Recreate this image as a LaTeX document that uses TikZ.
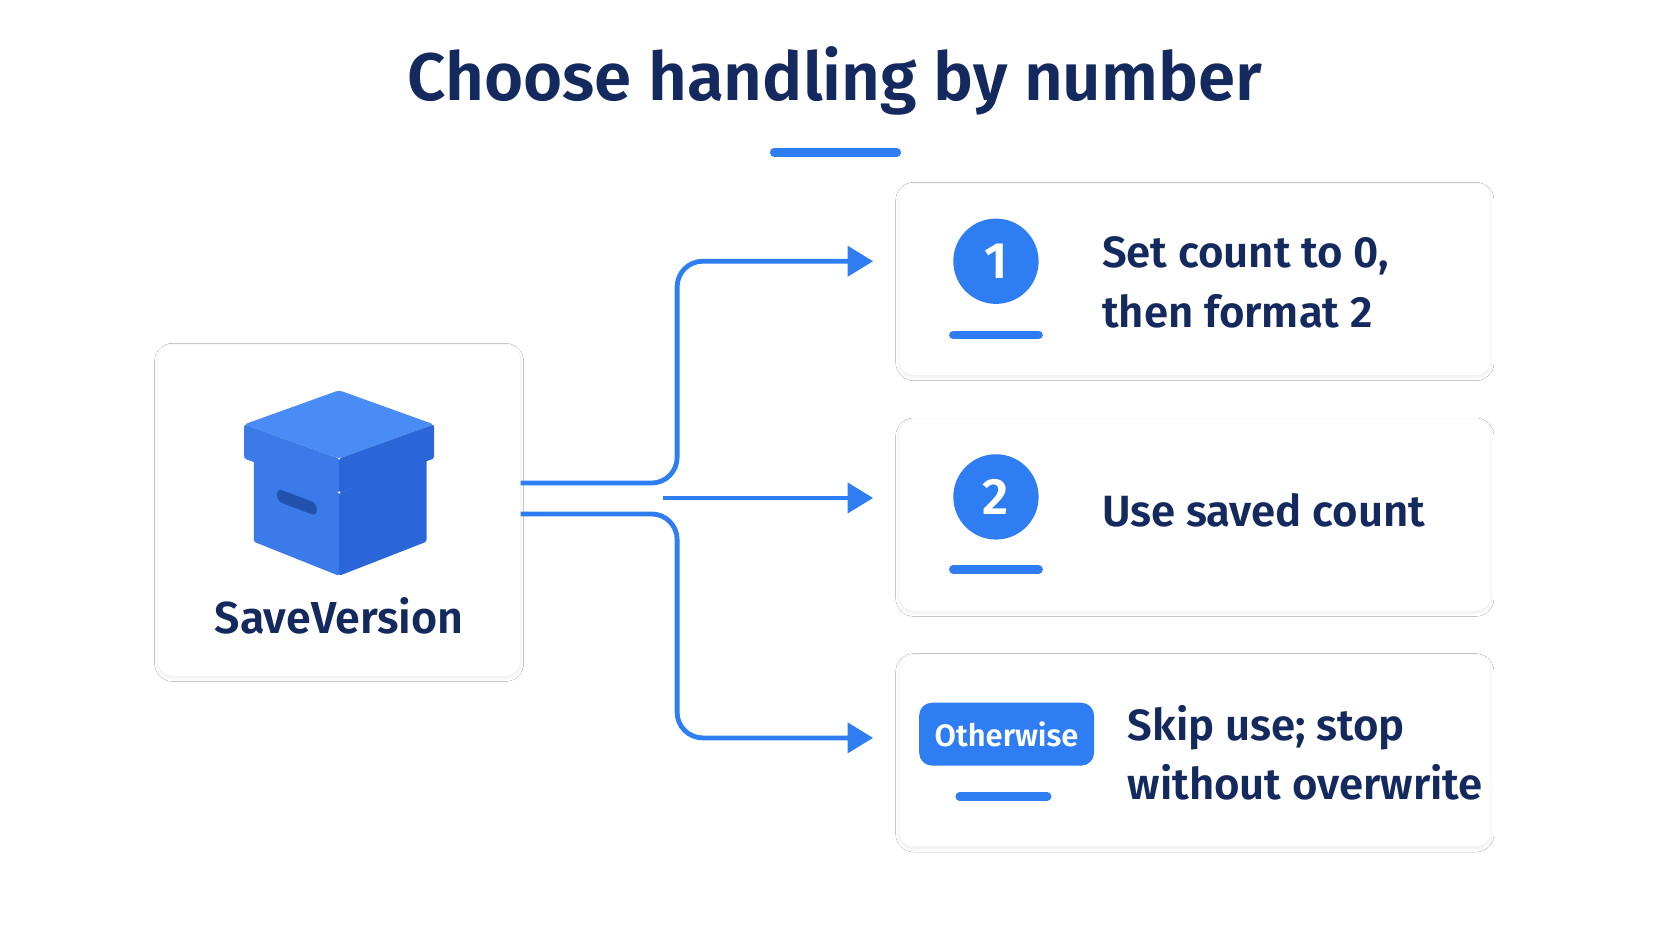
\documentclass[tikz,border=0pt]{standalone}
\usepackage{fontspec}
\setmainfont{Fira Sans}[BoldFont={Fira Sans SemiBold}]
\usetikzlibrary{arrows.meta,shadows.blur}
\definecolor{navy}{HTML}{14295E}
\definecolor{blu}{HTML}{2F7DF2}
\definecolor{lid}{HTML}{4A8CF5}
\definecolor{lidl}{HTML}{3A7AE9}
\definecolor{lidr}{HTML}{2B66D8}
\begin{document}
\begin{tikzpicture}[x=1pt,y=-1pt,
  card/.style={draw=black!5,fill=white,rounded corners=14pt,blur shadow={shadow blur steps=6,shadow xshift=0pt,shadow yshift=-2pt,shadow opacity=7,shadow blur radius=3pt},inner sep=0},
  txt/.style={font=\bfseries\fontsize{41}{56}\selectfont,text=navy,align=left,anchor=west},
  bar/.style={line width=8pt,line cap=round,draw=blu},
  conn/.style={line width=4.5pt,draw=blu,rounded corners=24pt,shorten >=24pt,-{Triangle[length=24pt,width=28pt]}},
  badge/.style={circle,fill=blu,minimum size=80pt,inner sep=0,text=white,font=\bfseries\fontsize{48}{48}\selectfont}]
\useasboundingbox (0,0) rectangle (1568,882);
\fill[white] (0,0) rectangle (1568,882);
\node[font=\bfseries\fontsize{63}{66}\selectfont,text=navy] (title) at (783,76) {Choose handling by number};
\draw[bar] (726,143) -- (841,143);
% cards
\node[card,minimum width=340pt,minimum height=311pt] (src) at (318,478.5) {};
\node[card,minimum width=555pt,minimum height=180pt] (c1) at (1120.5,262) {};
\node[card,minimum width=555pt,minimum height=180pt] (c2) at (1120.5,483) {};
\node[card,minimum width=555pt,minimum height=180pt] (c3) at (1120.5,704) {};
% box icon
\fill[lidl,rounded corners=2pt] (238,430) -- (318,462) -- (318,540) -- (238,508) -- cycle;
\fill[lidr,rounded corners=2pt] (318,462) -- (400,430) -- (400,508) -- (318,540) -- cycle;
\fill[lid,rounded corners=3pt] (229,398) -- (318,366) -- (407,398) -- (318,430) -- cycle;
\fill[lidl,rounded corners=2pt] (229,398) -- (318,430) -- (318,462) -- (229,430) -- cycle;
\fill[lidr,rounded corners=2pt] (318,430) -- (407,398) -- (407,430) -- (318,462) -- cycle;
\fill[lidr!80!black,rounded corners=5pt] (260,458) -- (297,472) -- (297,484) -- (260,470) -- cycle;
\node[font=\bfseries\fontsize{42}{42}\selectfont,text=navy] (srcl) at (318,578) {SaveVersion};
% badges
\node[badge] (b1) at (934,245) {1};
\draw[bar] (894,314) -- (974,314);
\node[badge] (b2) at (934,466) {2};
\draw[bar] (894,534) -- (974,534);
\node[fill=blu,rounded corners=12pt,minimum width=164pt,minimum height=59pt,inner sep=0,text=white,font=\bfseries\fontsize{29}{29}\selectfont] (b3) at (944,688.5) {Otherwise};
\draw[bar] (900,747) -- (982,747);
% texts
\node[txt] (t1) at (1030,265) {Set count to 0,\\then format 2};
\node[txt] (t2) at (1030,479) {Use saved count};
\node[txt] (t3) at (1054,706) {Skip use; stop\\without overwrite};
% connectors
\coordinate (s1) at ([yshift=25.5pt]src.east);
\coordinate (s2) at ([xshift=134pt,yshift=11.5pt]src.east);
\coordinate (s3) at ([yshift=-3.5pt]src.east);
\draw[conn] (s1) -- (635,453) -- (635,245) -- (c1.west |- 0,245);
\draw[conn] (s2) -- (c2.west |- s2);
\draw[conn] (s3) -- (635,482) -- (635,692) -- (c3.west |- 0,692);
\end{tikzpicture}
\end{document}
